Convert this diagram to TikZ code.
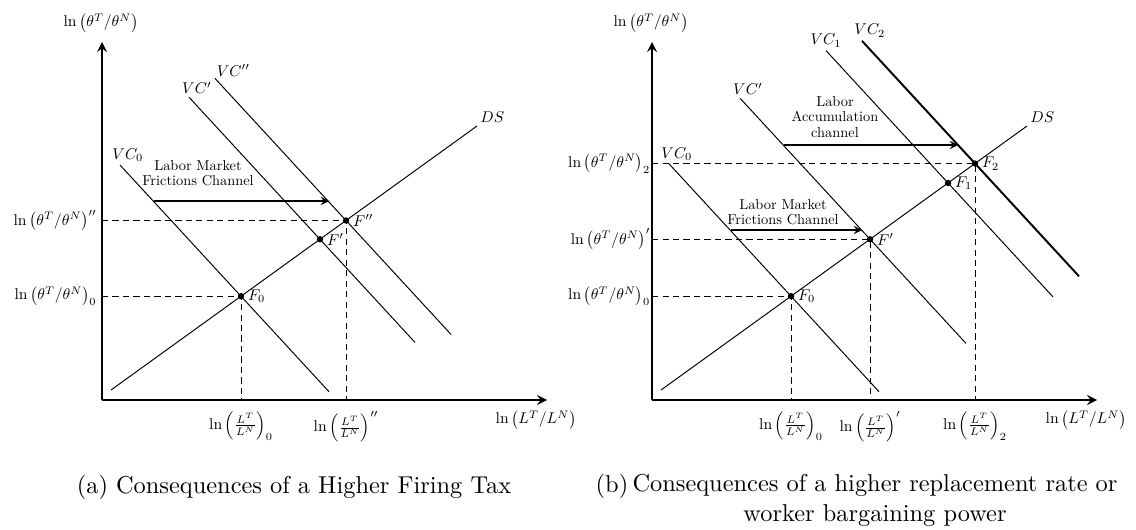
\documentclass[tikz,border=0pt]{standalone}
\usepackage{amsmath}
\usepackage{amssymb}
\usepackage{tikz}
\usetikzlibrary{arrows, positioning}
\tikzstyle{axisline} = [line width=0.8pt,->,>=stealth]
\tikzstyle{curve} = [line width=0.4pt]
\tikzstyle{guide} = [line width=0.4pt, dash pattern=on 2.5pt off 1.8pt]
\tikzstyle{arrow} = [line width=0.5pt,->,>=stealth]
\tikzstyle{eq} = [circle, fill=black, inner sep=0pt, minimum size=2.6pt]
\tikzstyle{lbl} = [scale=0.64, transform shape]
\tikzstyle{channel} = [font=\fontsize{10}{10.8}\selectfont, scale=0.59, transform shape, align=center, inner sep=0pt]
\tikzstyle{caption} = [inner sep=0pt]

\begin{document}
\begin{tikzpicture}[x=0.41pt, y=-0.41pt, every node/.style={font=\normalsize}]
    \useasboundingbox (0,0) rectangle (1136,529);

    \coordinate (Oa) at (102,400);
    \coordinate (Ya) at (102,42);
    \coordinate (Xa) at (547,400);
    \draw [axisline] (Oa) -- (Ya);
    \draw [axisline] (Oa) -- (Xa);
    \node (yla) [lbl] at (101,23) {$\ln\left(\theta^T/\theta^N\right)$};
    \node (xla) [lbl] at (536,420) {$\ln\left(L^T/L^N\right)$};

    \node (F0a) [eq] at (241,296.2) {};
    \node (F1a) [eq] at (320,239.3) {};
    \node (F2a) [eq] at (346,220.5) {};

    \draw [curve] (111,390) -- (477,126) node (DSa) [lbl, anchor=south west, inner sep=2pt] {$DS$};
    \draw [curve] (329,391.7) -- (120,165) node (VC0a) [lbl, above, xshift=5pt, inner sep=2pt] {$VC_0$};
    \draw [curve] (415,342.4) -- (189,97.2) node (VC1a) [lbl, above, xshift=5pt, inner sep=2pt] {$VC'$};
    \draw [curve] (451,334.4) -- (215,78.4) node (VC2a) [lbl, anchor=south west, inner sep=1pt] {$VC''$};

    \draw [guide] (Ya |- F0a) -- (F0a.center) -- (F0a |- Oa);
    \draw [guide] (Ya |- F2a) -- (F2a.center) -- (F2a |- Oa);

    \node (lF0a) [lbl, anchor=west, inner sep=2pt] at (F0a.east) {$F_0$};
    \node (lF1a) [lbl, anchor=west, inner sep=2pt] at (F1a.east) {$F'$};
    \node (lF2a) [lbl, anchor=west, inner sep=2pt] at (F2a.east) {$F''$};

    \node (t0a) [lbl, anchor=east] at (Ya |- F0a) {$\ln\left(\theta^T/\theta^N\right)_0$};
    \node (t2a) [lbl, anchor=east] at (Ya |- F2a) {$\ln\left(\theta^T/\theta^N\right)''$};
    \node (s0a) [lbl, anchor=north, yshift=-4pt] at (F0a |- Oa) {$\ln\left(\frac{L^T}{L^N}\right)_0$};
    \node (s2a) [lbl, anchor=north, yshift=-4pt] at (F2a |- Oa) {$\ln\left(\frac{L^T}{L^N}\right)''$};

    \coordinate (mfa) at (154,201);
    \coordinate (mta) at (329,201);
    \draw [arrow] (mfa) -- (mta);
    \node (lmfa) [channel] at (198,173) {Labor Market\\Frictions Channel};

    \node (capa) [caption] at (294,487) {(a) Consequences of a Higher Firing Tax};

    \coordinate (Ob) at (652,400);
    \coordinate (Yb) at (652,42);
    \coordinate (Xb) at (1097,400);
    \draw [axisline] (Ob) -- (Yb);
    \draw [axisline] (Ob) -- (Xb);
    \node (ylb) [lbl] at (651,23) {$\ln\left(\theta^T/\theta^N\right)$};
    \node (xlb) [lbl] at (1086,420) {$\ln\left(L^T/L^N\right)$};

    \node (F0b) [eq] at (791,296.2) {};
    \node (Fpb) [eq] at (870,239.3) {};
    \node (F1b) [eq] at (948,183) {};
    \node (F2b) [eq] at (975,163.5) {};

    \draw [curve] (661,390) -- (1027,126) node (DSb) [lbl, anchor=south west, inner sep=2pt] {$DS$};
    \draw [curve] (879,391.7) -- (669,163.8) node (VC0b) [lbl, above, xshift=5pt, inner sep=2pt] {$VC_0$};
    \draw [curve] (966,343.4) -- (740,98.2) node (VCpb) [lbl, above, xshift=5pt, inner sep=2pt] {$VC'$};
    \draw [curve] (1053,296.9) -- (826,50.6) node (VC1b) [lbl, above, inner sep=2pt] {$VC_1$};
    \draw [curve, line width=0.8pt] (1079,276.3) -- (862,40.9) node (VC2b) [lbl, above, xshift=5pt, inner sep=2pt] {$VC_2$};

    \draw [guide] (Yb |- F0b) -- (F0b.center) -- (F0b |- Ob);
    \draw [guide] (Yb |- Fpb) -- (Fpb.center) -- (Fpb |- Ob);
    \draw [guide] (Yb |- F2b) -- (F2b.center) -- (F2b |- Ob);

    \node (lF0b) [lbl, anchor=west, inner sep=2pt] at (F0b.east) {$F_0$};
    \node (lFpb) [lbl, anchor=west, inner sep=2pt] at (Fpb.east) {$F'$};
    \node (lF1b) [lbl, anchor=west, inner sep=2pt] at (F1b.east) {$F_1$};
    \node (lF2b) [lbl, anchor=west, inner sep=2pt] at (F2b.east) {$F_2$};

    \node (t0b) [lbl, anchor=east, inner sep=1pt] at (Yb |- F0b) {$\ln\left(\theta^T/\theta^N\right)_0$};
    \node (tpb) [lbl, anchor=east, inner sep=1pt] at (Yb |- Fpb) {$\ln\left(\theta^T/\theta^N\right)'$};
    \node (t2b) [lbl, anchor=east, inner sep=1pt] at (Yb |- F2b) {$\ln\left(\theta^T/\theta^N\right)_2$};
    \node (s0b) [lbl, anchor=north, yshift=-4pt] at (F0b |- Ob) {$\ln\left(\frac{L^T}{L^N}\right)_0$};
    \node (spb) [lbl, anchor=north, yshift=-4pt] at (Fpb |- Ob) {$\ln\left(\frac{L^T}{L^N}\right)'$};
    \node (s2b) [lbl, anchor=north, yshift=-4pt] at (F2b |- Ob) {$\ln\left(\frac{L^T}{L^N}\right)_2$};

    \coordinate (mfb) at (731,230);
    \coordinate (mtb) at (862,230);
    \draw [arrow] (mfb) -- (mtb);
    \node (lmfb) [channel] at (783,212) {Labor Market\\Frictions Channel};

    \coordinate (afb) at (784,145);
    \coordinate (atb) at (958,145);
    \draw [arrow] (afb) -- (atb);
    \node (lacb) [channel] at (835,117) {Labor\\Accumulation\\channel};

    \node (tagb) [caption] at (612,486) {(b)};
    \node (capb) [caption, align=center] at (875,500.5) {Consequences of a higher replacement rate or\\worker bargaining power};
\end{tikzpicture}
\end{document}
